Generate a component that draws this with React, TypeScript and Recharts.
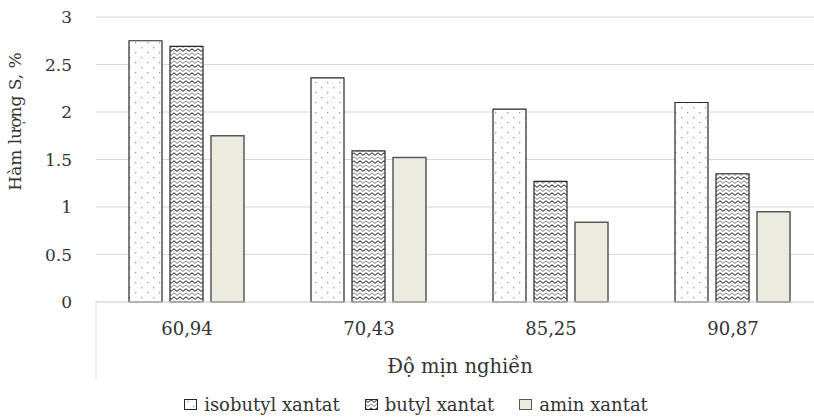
import React from "react";
import { BarChart, Bar, XAxis, YAxis, CartesianGrid, Legend } from "recharts";

const categories = ["60,94", "70,43", "85,25", "90,87"];
const isobutyl = [2.75, 2.36, 2.03, 2.1];
const butyl = [2.69, 1.59, 1.27, 1.35];
const amin = [1.75, 1.52, 0.84, 0.95];
const yTicks = [0, 0.5, 1, 1.5, 2, 2.5, 3];

const seriesNames = ["isobutyl xantat", "butyl xantat", "amin xantat"];

const data = categories.map((c, i) => ({
  cat: c,
  isobutyl: isobutyl[i],
  butyl: butyl[i],
  amin: amin[i],
}));

const FONT = "'DejaVu Serif', 'Liberation Serif', serif";
const TEXT = "#333333";
const GRID = "#d9d9d9";
const AMIN_FILL = "#ecebe0";

const fills = ["url(#dots)", "url(#zigzag)", AMIN_FILL];
const strokes = ["#262626", "#262626", "#595959"];

function Patterns() {
  return (
    <defs>
      <pattern id="dots" width="12" height="10" patternUnits="userSpaceOnUse">
        <rect width="12" height="10" fill="#ffffff" />
        <rect x="3" y="2" width="1.3" height="1.3" fill="#7f9dd0" />
        <rect x="9" y="7" width="1.3" height="1.3" fill="#7f9dd0" />
      </pattern>
      <pattern id="zigzag" width="6" height="8" patternUnits="userSpaceOnUse">
        <rect width="6" height="8" fill="#ffffff" />
        <path d="M0 0.8 L3 3.4 L6 0.8" fill="none" stroke="#111111" strokeWidth="1" />
        <path d="M0 4.8 L3 7.4 L6 4.8" fill="none" stroke="#7a7a7a" strokeWidth="1" />
      </pattern>
    </defs>
  );
}

function XTitle(props: any) {
  const vb = props.viewBox;
  if (!vb) return null;
  return (
    <g>
      <line x1={vb.x} y1={vb.y} x2={vb.x} y2={vb.y + vb.height} stroke={GRID} strokeWidth={1} />
      <text
        x={vb.x + vb.width / 2}
        y={vb.y + 71}
        textAnchor="middle"
        fontFamily={FONT}
        fontSize={19.5}
        fill={TEXT}
      >
        Độ mịn nghiền
      </text>
    </g>
  );
}

function YTitle(props: any) {
  const vb = props.viewBox;
  if (!vb) return null;
  const x = vb.x + 15;
  const y = vb.y + vb.height / 2 - 38;
  return (
    <text
      x={x}
      y={y}
      transform={`rotate(-90, ${x}, ${y})`}
      textAnchor="middle"
      dominantBaseline="central"
      fontFamily={FONT}
      fontSize={17}
      fill={TEXT}
    >
      Hàm lượng S, %
    </text>
  );
}

function LegendBox() {
  return (
    <div
      style={{
        height: 39,
        paddingTop: 14,
        paddingLeft: 8,
        boxSizing: "border-box",
        display: "flex",
        justifyContent: "center",
        gap: 25,
        fontFamily: FONT,
        fontSize: 18,
        lineHeight: "18px",
        color: TEXT,
      }}
    >
      {seriesNames.map((name, i) => (
        <span key={name} style={{ display: "flex", alignItems: "center" }}>
          <svg width={14} height={12} style={{ marginRight: 6 }}>
            <rect x={0.5} y={0.5} width={12} height={10} fill={fills[i]} stroke={strokes[i]} strokeWidth={1} />
          </svg>
          {name}
        </span>
      ))}
    </div>
  );
}

export default function App() {
  return (
    <div
      style={{
        position: "absolute",
        left: 0,
        top: 0,
        width: 814,
        height: 417,
        overflow: "hidden",
        background: "#ffffff",
      }}
    >
      <BarChart
        width={832}
        height={417}
        data={data}
        margin={{ top: 17, right: 8, bottom: 0, left: 0 }}
        barGap={8}
        barCategoryGap={33}
      >
        <Patterns />
        <CartesianGrid vertical={false} stroke={GRID} strokeWidth={1} />
        <XAxis
          dataKey="cat"
          height={76}
          tickLine={false}
          tickSize={0}
          tickMargin={20}
          axisLine={{ stroke: GRID, strokeWidth: 1 }}
          tick={{ fontFamily: FONT, fontSize: 18, fill: TEXT }}
          label={{ content: XTitle }}
        />
        <YAxis
          width={96}
          domain={[0, 3]}
          ticks={yTicks}
          axisLine={false}
          tickLine={false}
          tickSize={0}
          tickMargin={24}
          tick={{ fontFamily: FONT, fontSize: 17, fill: TEXT }}
          label={{ content: YTitle }}
        />
        <Legend verticalAlign="bottom" height={39} content={() => <LegendBox />} />
        <Bar dataKey="isobutyl" name={seriesNames[0]} fill={fills[0]} stroke={strokes[0]} strokeWidth={1.2} isAnimationActive={false} />
        <Bar dataKey="butyl" name={seriesNames[1]} fill={fills[1]} stroke={strokes[1]} strokeWidth={1.2} isAnimationActive={false} />
        <Bar dataKey="amin" name={seriesNames[2]} fill={fills[2]} stroke={strokes[2]} strokeWidth={1.5} isAnimationActive={false} />
      </BarChart>
    </div>
  );
}
